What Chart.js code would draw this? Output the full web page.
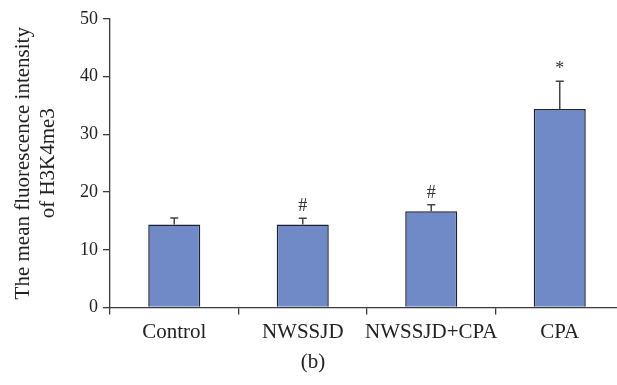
<!DOCTYPE html>
<html>
<head>
<meta charset="utf-8">
<script src="https://cdn.jsdelivr.net/npm/chart.js@4"></script>
<style>
  html, body { margin: 0; padding: 0; background: #fff; }
  #wrap { width: 617px; height: 385px; overflow: hidden; position: relative; }
  #myChart { display: block; }
</style>
</head>
<body>
<div id="wrap">
  <canvas id="myChart" width="625" height="385"></canvas>
</div>
<script>
// data
const groups = ["Control", "NWSSJD", "NWSSJD+CPA", "CPA"];
const means = [14.4, 14.4, 16.7, 34.4];
const errors = [1.1, 1.05, 1.1, 4.8];
const marks = ["", "#", "#", "*"];
const yTicks = [0, 10, 20, 30, 40, 50];

const axisColor = "#3a3a3a";
const serif = "'Liberation Serif', 'DejaVu Serif', serif";

// upper error whiskers + significance marks
const errorBars = {
  id: "errorBars",
  afterDatasetsDraw(chart) {
    const ctx = chart.ctx;
    const yScale = chart.scales.y;
    const meta = chart.getDatasetMeta(0);
    ctx.save();
    meta.data.forEach((bar, i) => {
      const top = yScale.getPixelForValue(means[i] + errors[i]);
      ctx.strokeStyle = "#444";
      ctx.lineWidth = 1.5;
      ctx.beginPath();
      ctx.moveTo(bar.x, bar.y);
      ctx.lineTo(bar.x, top);
      ctx.moveTo(bar.x - 4, top);
      ctx.lineTo(bar.x + 4, top);
      ctx.stroke();
      if (marks[i]) {
        ctx.fillStyle = "#333";
        ctx.font = "18px " + serif;
        ctx.textAlign = "center";
        ctx.textBaseline = "middle";
        ctx.fillText(marks[i], bar.x, top - 12);
      }
    });
    ctx.restore();
  },
  afterDraw(chart) {
    const ctx = chart.ctx;
    ctx.save();
    ctx.fillStyle = "#222";
    ctx.font = "21px " + serif;
    ctx.textAlign = "center";
    ctx.textBaseline = "middle";
    ctx.fillText("(b)", 313, 362);
    ctx.restore();
  }
};

const ctx = document.getElementById("myChart").getContext("2d");
const myChart = new Chart(ctx, {
  type: "bar",
  data: {
    labels: groups,
    datasets: [{
      data: means,
      backgroundColor: "#6f8ac6",
      borderColor: "#1d2130",
      borderWidth: 1.5,
      borderSkipped: "bottom",
      categoryPercentage: 1,
      barPercentage: 0.405
    }]
  },
  options: {
    responsive: false,
    animation: false,
    layout: { padding: { top: 19, right: 1, left: 0, bottom: 0 } },
    plugins: {
      legend: { display: false },
      tooltip: { enabled: false }
    },
    scales: {
      x: {
        grid: { offset: true, drawOnChartArea: false, tickLength: 7, color: axisColor, lineWidth: 1.3 },
        border: { color: axisColor, width: 1.3 },
        ticks: { color: "#222", padding: 5, maxRotation: 0, minRotation: 0, autoSkip: false, font: { family: serif, size: 21 } },
        afterFit(s) { s.height = 77.5; }
      },
      y: {
        min: 0,
        max: 50,
        afterBuildTicks(s) { s.ticks = yTicks.map(v => ({ value: v })); },
        grid: { drawOnChartArea: false, tickLength: 7, color: axisColor, lineWidth: 1.3 },
        border: { color: axisColor, width: 1.3 },
        ticks: { color: "#222", padding: 5, font: { family: serif, size: 18 } },
        title: {
          display: true,
          text: ["The mean fluorescence intensity", "of H3K4me3"],
          color: "#222",
          font: { family: serif, size: 21, lineHeight: 1.2 },
          padding: { top: 11, bottom: 0 }
        },
        afterFit(s) { s.width = 110; }
      }
    }
  },
  plugins: [errorBars]
});
</script>
</body>
</html>
